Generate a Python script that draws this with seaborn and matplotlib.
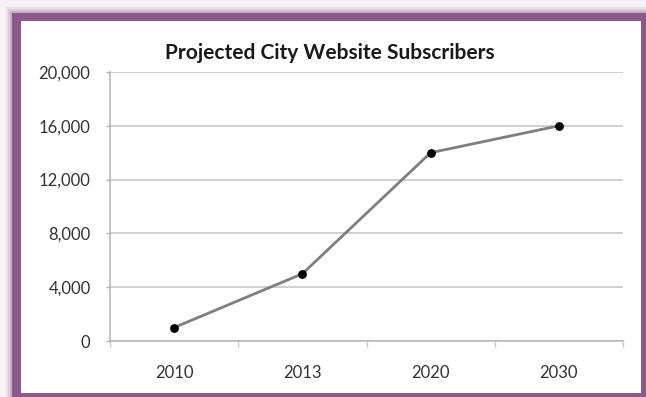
import matplotlib
matplotlib.use("Agg")
import matplotlib.pyplot as plt
from matplotlib.patches import Rectangle
from matplotlib.ticker import FuncFormatter
import seaborn as sns
import pandas as pd

years = ["2010", "2013", "2020", "2030"]
subscribers = [1000, 5000, 14000, 16000]
y_ticks = [0, 4000, 8000, 12000, 16000, 20000]
title = "Projected City Website Subscribers"

sns.set_theme(style="white")
plt.rcParams["font.family"] = ["Lato", "DejaVu Sans"]

W, H = 646, 397
fig = plt.figure(figsize=(W / 100, H / 100), dpi=100, facecolor="#f5f1f6")


def px_rect(x0, y0, x1, y1, **kw):
    """Rectangle given in pixel coordinates measured from the top-left."""
    fig.patches.append(Rectangle((x0 / W, 1 - y1 / H), (x1 - x0) / W, (y1 - y0) / H,
                                 transform=fig.transFigure, zorder=0, **kw))


# soft shadow around the purple frame
for i, a in enumerate([0.10, 0.16, 0.24]):
    px_rect(6 + 2 * i, 7 + 2 * i, W, H, facecolor="#8a5c8c", alpha=a, linewidth=0)
# purple frame and white card
px_rect(12, 13, W, H, facecolor="#8c588d", linewidth=0)
px_rect(21, 21, 641, 393, facecolor="white", linewidth=0)

df = pd.DataFrame({"pos": range(len(years)), "year": years, "value": subscribers})

ax = fig.add_axes([110 / W, 1 - 341 / H, (623 - 110) / W, (341 - 72) / H])
ax.set_facecolor("none")
ax.set_zorder(2)

sns.lineplot(data=df, x="pos", y="value", ax=ax, color="#7f7f7f", linewidth=2, zorder=3)
sns.scatterplot(data=df, x="pos", y="value", ax=ax, color="black", s=40,
                edgecolor="black", linewidth=0, zorder=4)

ax.set_xlim(-0.5, len(years) - 0.5)
ax.set_ylim(y_ticks[0], y_ticks[-1])
ax.set_yticks(y_ticks)
ax.yaxis.set_major_formatter(FuncFormatter(lambda v, _: f"{int(v):,}"))
ax.set_xticks(df["pos"])
ax.set_xticklabels(years)
ax.set_xticks([p - 0.5 for p in range(len(years) + 1)], minor=True)
ax.set_xlabel("")
ax.set_ylabel("")

ax.grid(axis="y", color="#c4c4c4", linewidth=1.1)
ax.grid(axis="x", visible=False)
for side in ["top", "right"]:
    ax.spines[side].set_visible(False)
for side in ["left", "bottom"]:
    ax.spines[side].set_color("#b5b5b5")
    ax.spines[side].set_linewidth(1.1)

ax.tick_params(axis="y", which="major", left=True, length=3, width=1, color="#b5b5b5",
               pad=11, labelsize=12, labelcolor="#333333")
ax.tick_params(axis="x", which="major", bottom=False, length=0, pad=17,
               labelsize=12, labelcolor="#333333")
ax.tick_params(axis="x", which="minor", bottom=True, length=4, width=1, color="#c8c8c8")

fig.text((163 + 497) / 2 / W, 1 - 53 / H, title, ha="center", va="center",
         fontsize=15, fontweight="bold", color="#1a1a1a")

fig.savefig("out.png", dpi=100, facecolor=fig.get_facecolor())
